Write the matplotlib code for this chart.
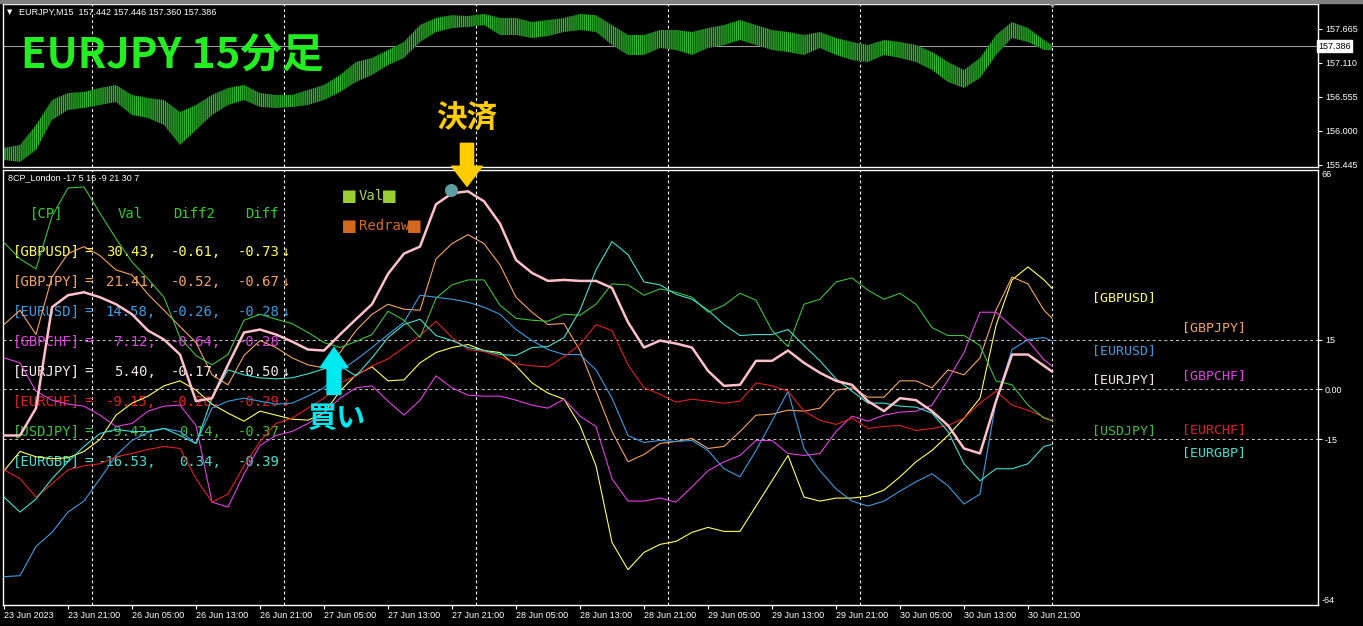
import numpy as np
import matplotlib
matplotlib.use('Agg')
import matplotlib.pyplot as plt
from matplotlib import transforms as mtransforms

#------------- Data -------------#
# bar index of every sample (M15 bars, one sample every 8 bars)
bar_idx = list(range(0, 521, 8)) + [524]

# EURJPY price band (high / low per sample)
price_high = [155.723, 155.772, 156.098, 156.506, 156.620, 156.637, 156.702, 156.751, 156.588, 156.539, 156.506, 156.310, 156.424, 156.588, 156.702, 156.751, 156.620,
              156.588, 156.588, 156.669, 156.751, 156.914, 157.126, 157.192, 157.322, 157.453, 157.730, 157.845, 157.890, 157.877, 157.910, 157.845, 157.845, 157.779,
              157.812, 157.845, 157.910, 157.890, 157.730, 157.567, 157.567, 157.649, 157.649, 157.616, 157.681, 157.730, 157.812, 157.730, 157.649, 157.616,
              157.567, 157.616, 157.518, 157.453, 157.404, 157.485, 157.453, 157.404, 157.290, 157.126, 156.996, 157.192, 157.567, 157.779, 157.681, 157.485, 157.404]
price_low = [155.527, 155.494, 155.690, 156.180, 156.343, 156.376, 156.424, 156.473, 156.261, 156.212, 156.098, 155.772, 156.016, 156.261, 156.424, 156.506, 156.392,
             156.376, 156.392, 156.424, 156.506, 156.637, 156.800, 156.914, 157.077, 157.192, 157.453, 157.616, 157.681, 157.698, 157.730, 157.567, 157.567, 157.518,
             157.551, 157.616, 157.649, 157.616, 157.404, 157.241, 157.241, 157.355, 157.322, 157.241, 157.355, 157.404, 157.485, 157.404, 157.322, 157.290,
             157.241, 157.355, 157.241, 157.159, 157.126, 157.241, 157.192, 157.126, 156.996, 156.800, 156.702, 156.865, 157.241, 157.518, 157.453, 157.322, 157.322]
last_price = 157.386
price_ticks = [157.665, 157.110, 156.555, 156.000, 155.445]

# 8CP_London currency-pair strength lines
gbpusd = [-24.4, -18.6, -20.2, -20.8, -20.5, -18.6, -15.0, -7.7, -4.1, -2.0, 1.1, 2.6, -0.2, -4.4, -7.1, -9.5, -6.5,
          -7.7, -8.9, -9.2, -7.1, -0.5, 4.4, 6.8, 2.6, 2.9, 8.0, 11.1, 12.6, 13.5, 11.7, 11.1, 7.1, 2.0,
          -1.1, -2.9, -10.8, -22.9, -45.9, -54.1, -48.9, -46.5, -45.6, -42.9, -41.4, -42.6, -42.6, -35.0, -27.4, -19.8,
          -32.3, -33.5, -32.6, -32.6, -32.0, -30.2, -26.2, -21.7, -18.3, -13.8, -8.6, -2.6, 19.2, 32.9, 36.8, 32.9, 30.4]
gbpjpy = [19.5, 23.8, 16.5, 33.8, 40.8, 42.9, 40.2, 35.9, 34.4, 28.6, 23.8, 18.9, 14.1, 4.4, 1.4, 10.2, 14.7,
          12.6, 9.5, 7.4, 6.5, 11.1, 17.7, 22.6, 25.6, 24.1, 23.8, 39.2, 43.8, 46.5, 43.8, 37.4, 27.7, 23.2,
          19.5, 19.8, 11.7, -0.5, -12.6, -21.7, -19.5, -16.2, -15.6, -14.7, -17.7, -17.1, -12.6, -7.7, -7.4, -6.2,
          -6.5, -5.6, -0.2, 0.5, -2.3, -2.3, 2.6, 2.6, 0.5, 5.9, 4.4, 9.5, 23.8, 33.8, 31.7, 23.8, 21.4]
eurusd = [-56.2, -55.9, -47.1, -42.9, -36.8, -33.5, -26.8, -19.8, -15.3, -12.9, -11.7, -12.6, -16.2, -5.6, -3.5, -2.6, -3.5,
          -4.4, -4.1, -2.0, 0.5, 5.6, 8.9, 12.6, 16.5, 20.2, 28.3, 27.7, 27.1, 26.2, 24.7, 22.6, 18.0, 14.7,
          12.0, 10.5, 10.5, 5.9, -2.6, -13.8, -15.9, -15.3, -15.6, -15.3, -18.3, -23.8, -26.2, -18.3, -9.5, -0.5,
          -17.7, -24.4, -29.8, -33.5, -35.0, -33.5, -30.5, -27.7, -25.3, -28.9, -34.4, -31.4, -3.5, 12.0, 15.0, 15.6, 14.6]
gbpchf = [9.5, 8.0, -0.5, -3.2, -4.4, -5.0, -7.7, -11.1, -10.2, -6.5, -5.0, -4.7, -10.8, -33.8, -35.3, -25.3, -16.8,
          -13.8, -12.6, -10.2, -7.1, -2.6, 0.5, 1.1, -3.5, -7.7, -3.2, 4.1, 0.5, -1.7, -2.0, -2.0, -3.2, -4.7,
          -5.6, -2.9, -8.0, -11.1, -26.8, -33.5, -33.5, -32.6, -33.8, -29.2, -24.4, -21.7, -19.8, -15.3, -15.3, -19.2,
          -19.8, -19.2, -12.6, -8.0, -9.5, -7.7, -6.8, -6.5, -4.7, 2.9, 11.1, 23.2, 23.2, 18.9, 14.7, 8.9, 7.1]
eurjpy = [-13.8, -13.8, -5.6, 24.7, 28.3, 29.2, 27.7, 25.6, 22.6, 17.7, 15.0, 10.5, -3.5, -2.6, 7.4, 17.1, 18.0,
          16.5, 14.4, 12.0, 11.7, 16.5, 21.1, 25.6, 34.7, 40.8, 42.9, 55.6, 58.9, 59.5, 56.5, 49.8, 38.9, 35.0,
          32.6, 32.9, 32.6, 32.6, 30.5, 20.2, 12.6, 14.7, 13.8, 12.6, 5.6, 1.1, 1.4, 8.6, 8.6, 11.7,
          8.0, 5.0, 2.6, 1.4, -3.5, -6.5, -2.6, -3.2, -6.5, -10.8, -17.7, -19.2, -3.5, 10.5, 10.5, 7.1, 5.4]
eurchf = [-24.1, -26.8, -32.3, -28.3, -24.1, -22.9, -22.3, -20.2, -19.2, -18.0, -17.1, -17.7, -26.8, -33.8, -31.4, -22.9, -15.6,
          -10.2, -8.6, -5.6, -2.6, 2.0, 4.1, 7.1, 9.2, 12.6, 16.2, 20.5, 15.6, 12.0, 11.4, 9.8, 7.7, 7.1,
          6.8, 9.8, 13.5, 19.5, 17.7, 7.4, 0.5, -1.4, -3.8, -2.9, -3.5, -4.1, -3.5, 2.0, 1.1, -0.5,
          -6.5, -9.2, -10.5, -8.6, -11.7, -11.1, -10.8, -12.3, -11.7, -10.8, -8.6, -4.1, -0.5, -4.7, -6.2, -8.3, -9.2]
usdjpy = [44.1, 39.2, 36.2, 52.0, 60.5, 60.8, 52.9, 45.3, 38.3, 33.2, 27.7, 15.6, 10.2, 7.4, 10.5, 20.8, 22.6,
          21.1, 19.8, 17.1, 14.1, 12.6, 14.4, 16.5, 23.5, 20.8, 15.6, 27.4, 31.4, 32.9, 32.9, 25.3, 21.4, 20.8,
          20.5, 22.6, 22.3, 25.6, 31.7, 31.4, 28.3, 30.2, 29.2, 27.7, 23.2, 25.3, 28.9, 26.8, 17.7, 12.9,
          25.6, 27.1, 32.3, 33.5, 29.8, 27.1, 28.9, 25.6, 18.6, 16.2, 16.2, 13.2, 2.6, 1.4, -4.7, -8.6, -9.4]
eurgbp = [-32.3, -36.8, -32.9, -26.8, -21.7, -17.1, -13.2, -12.0, -12.6, -12.6, -11.7, -13.8, -16.2, -2.6, 5.9, 4.4, 3.5,
          3.2, 3.5, 4.7, 6.2, 7.1, 4.1, 9.5, 15.6, 19.5, 21.1, 16.2, 14.7, 12.6, 11.7, 10.5, 10.2, 12.6,
          12.9, 15.6, 23.8, 35.9, 44.4, 40.5, 32.3, 31.4, 28.6, 27.1, 23.8, 19.5, 16.2, 16.5, 16.5, 18.0,
          13.2, 8.6, 3.2, -0.5, -4.1, -4.1, -5.0, -5.3, -7.1, -12.6, -22.3, -27.4, -23.8, -23.8, -22.3, -17.1, -16.5]

pairs = ['GBPUSD', 'GBPJPY', 'EURUSD', 'GBPCHF', 'EURJPY', 'EURCHF', 'USDJPY', 'EURGBP']
pair_colors = ['#ffff5a', '#f4a460', '#3d9be0', '#e040e0', '#ffc0cb', '#e02020', '#3cbf3c', '#40e0d0']
pair_values = [gbpusd, gbpjpy, eurusd, gbpchf, eurjpy, eurchf, usdjpy, eurgbp]
table_val = ['30.43,', '21.41,', '14.58,', '7.12,', '5.40,', '-9.15,', '-9.42,', '-16.53,']
table_diff2 = ['-0.61,', '-0.52,', '-0.26,', '-0.64,', '-0.17,', '-0.20,', '0.14,', '0.34,']
table_diff = ['-0.73', '-0.67', '-0.28', '-0.28', '-0.50', '-0.29', '-0.37', '-0.39']
table_arrow = ['↓', '↓', '↓', '', '↓', '↓', '', '']

levels = [15, 0, -15]
day_starts = [44, 140, 236, 332, 428, 524]
time_ticks = list(range(0, 513, 32))
time_labels = ['23 Jun 2023', '23 Jun 21:00', '26 Jun 05:00', '26 Jun 13:00', '26 Jun 21:00',
               '27 Jun 05:00', '27 Jun 13:00', '27 Jun 21:00', '28 Jun 05:00', '28 Jun 13:00',
               '28 Jun 21:00', '29 Jun 05:00', '29 Jun 13:00', '29 Jun 21:00', '30 Jun 05:00',
               '30 Jun 13:00', '30 Jun 21:00']

buy_bar, buy_val = 165, 12.6
exit_bar, exit_val = 231.5, 61.0
signal_bar, signal_val = [223.5], [59.8]

#------------- Figure -------------#
W, H = 1363, 626
plt.rcParams['hatch.linewidth'] = 0.75
fig = plt.figure(figsize=(W / 100, H / 100), dpi=100, facecolor='black')
# pixel (top-left origin) -> display, only used to place labels
PX = mtransforms.Affine2D().scale(1 / 100, -1 / 100).translate(0, H / 100) + fig.dpi_scale_trans


def box(x0, y0, x1, y1):
    return [x0 / W, 1 - y1 / H, (x1 - x0) / W, (y1 - y0) / H]


SMALL = dict(family='Liberation Sans', size=6.5, color='white')
MONO = ['DejaVu Sans Mono', 'DejaVu Sans']
JP = ['Noto Sans CJK JP', 'DejaVu Sans']

fig.patches.append(plt.Rectangle((0, 1 - 3 / H), 1, 3 / H, transform=fig.transFigure,
                                 color='#808080', zorder=0))

ax_top = fig.add_axes(box(3, 4, 1318, 167))
ax = fig.add_axes(box(3, 170, 1318, 605))

for a in (ax_top, ax):
    a.set_facecolor('black')
    for s in a.spines.values():
        s.set_color('white')
        s.set_linewidth(1.0)
    a.set_xlim(-0.5, 657)
    for d in day_starts:
        a.axvline(d, color='white', lw=0.8, ls=(0, (2.5, 2.5)), zorder=1)

### Price panel ###
ax_top.fill_between(bar_idx, price_low, price_high, facecolor='#0c3a0c', edgecolor='#2fc22f',
                    hatch='|' * 8, lw=0, zorder=2)
ax_top.axhline(last_price, color='#9a9a9a', lw=0.8, zorder=1.5)
ax_top.set_ylim(155.412, 158.073)
ax_top.set_xticks([])
ax_top.yaxis.tick_right()
ax_top.set_yticks(price_ticks)
ax_top.set_yticklabels([f'{p:.3f}' for p in price_ticks], fontfamily='Liberation Sans', fontsize=6.5)
ax_top.tick_params(axis='y', colors='white', length=3, width=0.8, pad=2)
ax_top.text(1.0, last_price, f'{last_price:.3f}', transform=ax_top.get_yaxis_transform(),
            ha='left', va='center', fontsize=6.5, family='Liberation Sans', color='black',
            bbox=dict(boxstyle='square,pad=0.15', fc='white', ec='white'))
ax_top.plot([524], [1.0], marker='v', color='#a0a0a0', ms=5, clip_on=False,
            transform=ax_top.get_xaxis_transform(), zorder=5)

ax_top.text(7, 12, '▼', transform=PX, fontsize=5, color='white', va='center', family='DejaVu Sans')
ax_top.text(19, 12, 'EURJPY,M15  157.442 157.446 157.360 157.386', transform=PX, va='center', **SMALL)
ax_top.text(21, 57, 'EURJPY 15分足', transform=PX, va='center', ha='left', family=JP,
            fontsize=30, fontweight='bold', color='#22ee22', zorder=6)

### Indicator panel ###
for name, vals, col in zip(pairs, pair_values, pair_colors):
    if name == 'EURJPY':
        ax.plot(bar_idx, vals, color=col, lw=1.8, zorder=4)
    else:
        ax.plot(bar_idx, vals, color=col, lw=0.8, zorder=3)
for lv in levels:
    ax.axhline(lv, color='#c8c8c8', lw=0.7, ls=(0, (3, 3)), zorder=1)

ax.scatter(signal_bar, signal_val, s=70, color='#5f9ea0', zorder=5)
ax.set_ylim(-64.7, 65.9)

ax.yaxis.tick_right()
ax.set_yticks(levels)
ax.set_yticklabels(['15', '0.00', '-15'], fontfamily='Liberation Sans', fontsize=6.5)
ax.tick_params(axis='y', colors='white', length=3, width=0.8, pad=2)
ax.text(1.003, 1.0, '66', transform=ax.transAxes, ha='left', va='top', **SMALL)
ax.text(1.003, 0.0, '-64', transform=ax.transAxes, ha='left', va='bottom', **SMALL)

ax.set_xticks(time_ticks)
ax.set_xticklabels(time_labels, ha='left', fontfamily='Liberation Sans', fontsize=6.5)
ax.tick_params(axis='x', colors='white', length=3, width=0.8, pad=1.5)

ax.text(8, 178, '8CP_London -17 5 16 -9 21 30 7', transform=PX, va='center', **SMALL)

# value table
hdr = dict(transform=PX, va='center', family=MONO, fontsize=10, color='#32cd32', zorder=1)
ax.text(30, 214, '[CP]', ha='left', **hdr)
ax.text(118, 214, 'Val', ha='left', **hdr)
ax.text(173, 214, 'Diff2', ha='left', **hdr)
ax.text(245, 214, 'Diff', ha='left', **hdr)
for i, name in enumerate(pairs):
    y = 252 + i * 30.0
    col = '#f4e8e8' if name == 'EURJPY' else pair_colors[i]
    kw = dict(transform=PX, va='center', family=MONO, fontsize=10, color=col, zorder=1)
    ax.text(13, y, f'[{name}]', ha='left', **kw)
    ax.text(84, y, '=', ha='left', **kw)
    ax.text(156, y, table_val[i], ha='right', **kw)
    ax.text(221, y, table_diff2[i], ha='right', **kw)
    ax.text(279, y, table_diff[i], ha='right', **kw)
    if table_arrow[i]:
        ax.text(281, y, table_arrow[i], ha='left', **kw)

# legend boxes
sq = dict(transform=PX, va='center', family=MONO, fontsize=15)
ax.text(343, 196, '■', color='#9acd32', **sq)
ax.text(359, 196, 'Val', transform=PX, va='center', family=MONO, fontsize=10, color='#a8d060')
ax.text(383, 196, '■', color='#9acd32', **sq)
ax.text(343, 226, '■', color='#d2691e', **sq)
ax.text(359, 226, 'Redraw', transform=PX, va='center', family=MONO, fontsize=10, color='#d2691e')
ax.text(408, 226, '■', color='#d2691e', **sq)

# labels on the right
label_pos = {'GBPUSD': (1092, 298), 'GBPJPY': (1182, 328), 'EURUSD': (1092, 351),
             'EURJPY': (1092, 380), 'GBPCHF': (1182, 376), 'USDJPY': (1092, 431),
             'EURCHF': (1182, 430), 'EURGBP': (1182, 453)}
for name, col in zip(pairs, pair_colors):
    lx, ly = label_pos[name]
    if name == 'EURJPY':
        col = '#f4e8e8'
    ax.text(lx, ly, f'[{name}]', transform=PX, va='center', ha='left', family=MONO,
            fontsize=9.5, color=col)

# buy / exit annotations
ax.annotate('', xy=(buy_bar, buy_val), xytext=(0, -47), textcoords='offset pixels',
            arrowprops=dict(arrowstyle='simple,head_length=1.45,head_width=2.0,tail_width=1.0',
                            mutation_scale=10, fc='#00e8f0', ec='#00e8f0', shrinkA=0, shrinkB=0),
            annotation_clip=False, zorder=7)
ax.annotate('買い', xy=(buy_bar, buy_val), xytext=(3, -70), textcoords='offset pixels',
            ha='center', va='center', family=JP, fontsize=21, fontweight='bold',
            color='#00e8f0', annotation_clip=False, zorder=7)
ax.annotate('', xy=(exit_bar, exit_val), xytext=(0, 43), textcoords='offset pixels',
            arrowprops=dict(arrowstyle='simple,head_length=1.45,head_width=2.2,tail_width=0.95',
                            mutation_scale=10, fc='#ffcc00', ec='#ffcc00', shrinkA=0, shrinkB=0),
            annotation_clip=False, zorder=7)
ax.annotate('決済', xy=(exit_bar, exit_val), xytext=(0, 68), textcoords='offset pixels',
            ha='center', va='center', family=JP, fontsize=22, fontweight='bold',
            color='#ffcc00', annotation_clip=False, zorder=7)

fig.savefig('out.png', dpi=100, facecolor='black')
